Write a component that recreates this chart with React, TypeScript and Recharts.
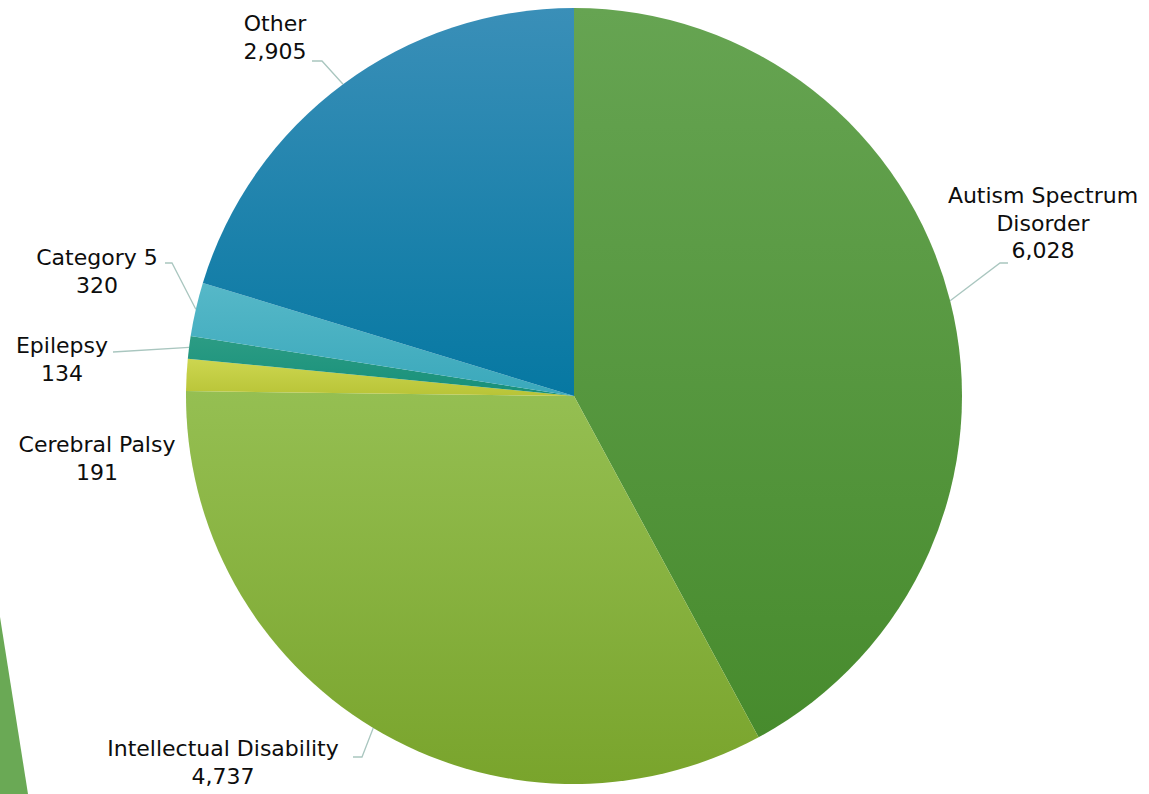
import React from 'react';
import { PieChart, Pie, Cell } from 'recharts';

const categories = ['Autism Spectrum Disorder', 'Intellectual Disability', 'Cerebral Palsy', 'Epilepsy', 'Category 5', 'Other'];
const counts = [6028, 4737, 191, 134, 320, 2905];
// gradient stops per slice: [top, bottom]
const sliceColors = [
  ['#66a452', '#478b2d'],
  ['#95bf52', '#79a42c'],
  ['#cdd650', '#b8c437'],
  ['#2c9c84', '#17907a'],
  ['#56b8c8', '#3aa8bb'],
  ['#3a8fb8', '#0678a2'],
];
// label text lines
const labelLines = [
  ['Autism Spectrum', 'Disorder', '6,028'],
  ['Intellectual Disability', '4,737'],
  ['Cerebral Palsy', '191'],
  ['Epilepsy', '134'],
  ['Category 5', '320'],
  ['Other', '2,905'],
];
// label placement: text centre x, first line y, leader elbow points (empty = no leader)
const labelPlace = [
  { x: 1043, y: 195, elbow: [[1000, 263], [1008, 263]] },
  { x: 223, y: 748, elbow: [[362, 757], [353, 757]] },
  { x: 97, y: 444, elbow: [] },
  { x: 62, y: 345, elbow: [[113, 352]] },
  { x: 97, y: 257, elbow: [[172, 263], [165, 263]] },
  { x: 275, y: 23, elbow: [[322, 61], [312, 61]] },
];

const data = categories.map((name, i) => ({ name, value: counts[i] }));
const RADIAN = Math.PI / 180;
const FONT = '"DejaVu Sans", sans-serif';
const LINE_H = 27.5;

const renderLabel = (props: any) => {
  const { cx, cy, midAngle, outerRadius, index } = props;
  const place = labelPlace[index];
  const ex = cx + outerRadius * Math.cos(-midAngle * RADIAN);
  const ey = cy + outerRadius * Math.sin(-midAngle * RADIAN);
  const pts = place.elbow.length ? [[ex, ey], ...place.elbow] : [];
  return (
    <g key={`lbl-${index}`}>
      {pts.length > 0 && (
        <polyline
          points={pts.map((p) => p.join(',')).join(' ')}
          fill="none"
          stroke="#a9c6bf"
          strokeWidth={1.3}
        />
      )}
      <text
        x={place.x}
        y={place.y + 8}
        textAnchor="middle"
        fontFamily={FONT}
        fontSize={22}
        fill="#0d0d0d"
      >
        {labelLines[index].map((t, j) => (
          <tspan key={j} x={place.x} dy={j === 0 ? 0 : LINE_H}>
            {t}
          </tspan>
        ))}
      </text>
    </g>
  );
};

export default function App() {
  return (
    <div style={{ position: 'absolute', left: 0, top: 0, width: 1149, height: 794, background: '#fff', overflow: 'hidden' }}>
      <svg width={1149} height={794} style={{ position: 'absolute', left: 0, top: 0 }}>
        <polygon points="0,617 28,794 0,794" fill="#6aa955" />
      </svg>
      <div style={{ position: 'absolute', left: 0, top: 0 }}>
        <PieChart width={1149} height={794} margin={{ top: 0, right: 0, bottom: 0, left: 0 }}>
          <defs>
            {sliceColors.map((c, i) => (
              <linearGradient key={i} id={`grad-${i}`} x1="0" y1="0" x2="0" y2="1">
                <stop offset="0%" stopColor={c[0]} />
                <stop offset="100%" stopColor={c[1]} />
              </linearGradient>
            ))}
          </defs>
          <Pie
            data={data}
            dataKey="value"
            cx={574}
            cy={396}
            outerRadius={388}
            startAngle={90}
            endAngle={-270}
            stroke="none"
            labelLine={false}
            label={renderLabel}
            isAnimationActive={false}
          >
            {data.map((entry, index) => (
              <Cell key={`cell-${index}`} fill={`url(#grad-${index})`} stroke="none" />
            ))}
          </Pie>
        </PieChart>
      </div>
    </div>
  );
}
